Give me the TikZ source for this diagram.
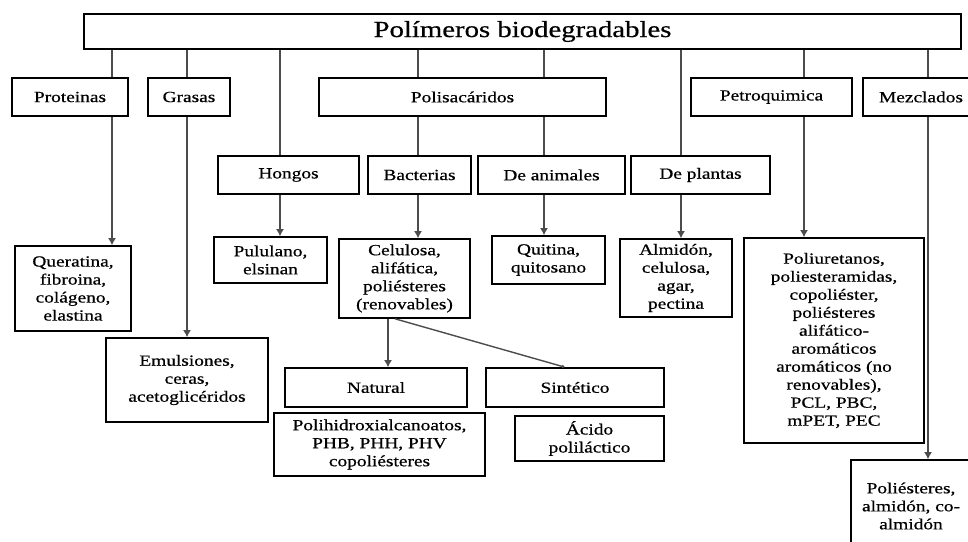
\documentclass[tikz,border=0pt]{standalone}
\usepackage{fontspec}
\setmainfont{Liberation Serif}[FakeStretch=1.25,FakeBold=0.6]
\usetikzlibrary{arrows.meta}
\tikzset{
  box/.style={draw, fill=white, line width=1.6pt, align=center, inner sep=0pt,
    font=\fontsize{15.5}{18}\selectfont},
  bx/.style 2 args={box, minimum width=#1pt, minimum height=#2pt},
  link/.style={line width=1.4pt, draw=black!70},
  arr/.style={link, -{Latex[length=7pt,width=8pt]}},
  thin arr/.style={link, -{Latex[length=3pt,width=4pt]}}
}
\begin{document}
\begin{tikzpicture}[x=1pt,y=-1pt]
    \clip (0,0) rectangle (968,541);
    \node[bx={877}{35}, font=\fontsize{23}{26}\selectfont] (pol) at (522.5,31.5) {Polímeros biodegradables};

    \node[bx={116}{38}] (prot) at (70,97) {Proteinas};
    \node[bx={82}{38}] (gras) at (189,97) {Grasas};
    \node[bx={287}{38}] (polis) at (462.5,97) {Polisacáridos};
    \node[bx={161}{38}] (petro) at (771.5,97) {Petroquimica};
    \node[bx={116}{38}] (mezc) at (921,97) {Mezclados};

    \node[bx={141}{38}] (hong) at (288.5,175) {Hongos};
    \node[bx={103}{38}] (bact) at (419.5,175) {Bacterias};
    \node[bx={147}{38}] (anim) at (551.5,175) {De animales};
    \node[bx={139}{38}] (plan) at (700.5,175) {De plantas};

    \node[bx={116}{85}] (quer) at (73,288.5) {Queratina,\\fibroina,\\colágeno,\\elastina};
    \node[bx={162}{84}] (emul) at (187,380) {Emulsiones,\\ceras,\\acetoglicéridos};
    \node[bx={113}{46}] (pulu) at (270.5,260) {Pululano,\\elsinan};
    \node[bx={131}{79}] (celu) at (404.5,278.5) {Celulosa,\\alifática,\\poliésteres\\(renovables)};
    \node[bx={113}{48}] (quit) at (548.5,260) {Quitina,\\quitosano};
    \node[bx={112}{78}] (almi) at (676,278) {Almidón,\\celulosa,\\agar,\\pectina};
    \node[bx={180}{205}] (poliu) at (834,340.5) {Poliuretanos,\\poliesteramidas,\\copoliéster,\\poliésteres\\alifático-\\aromáticos\\aromáticos (no\\renovables),\\PCL, PBC,\\mPET, PEC};

    \node[bx={182}{39}] (nat) at (376,387.5) {Natural};
    \node[bx={178}{39}] (sint) at (575,387.5) {Sintético};
    \node[bx={211}{63}] (phb) at (379.5,444.5) {Polihidroxialcanoatos,\\PHB, PHH, PHV\\copoliésteres};
    \node[bx={149}{45}] (acid) at (589.5,438.5) {Ácido\\poliláctico};
    \node[bx={120}{92}] (poliest) at (911,506) {Poliésteres,\\almidón, co-\\almidón};

    \coordinate (c1) at (112,0);
    \coordinate (c2) at (187,0);
    \coordinate (c3) at (280,0);
    \coordinate (c4) at (418,0);
    \coordinate (c5) at (544,0);
    \coordinate (c6) at (681,0);
    \coordinate (c7) at (804,0);
    \coordinate (c8) at (928,0);
    \coordinate (c9) at (388,0);
    \coordinate (c10) at (395,0);
    \coordinate (c11) at (565,0);

    \draw[link] (pol.south -| c1) -- (prot.north -| c1);
    \draw[arr] (prot.south -| c1) -- (quer.north -| c1);
    \draw[link] (pol.south -| c2) -- (gras.north -| c2);
    \draw[arr] (gras.south -| c2) -- (emul.north -| c2);
    \draw[link] (pol.south -| c3) -- (hong.north -| c3);
    \draw[arr] (hong.south -| c3) -- (pulu.north -| c3);
    \draw[link] (pol.south -| c4) -- (polis.north -| c4);
    \draw[link] (polis.south -| c4) -- (bact.north -| c4);
    \draw[arr] (bact.south -| c4) -- (celu.north -| c4);
    \draw[link] (pol.south -| c5) -- (polis.north -| c5);
    \draw[link] (polis.south -| c5) -- (anim.north -| c5);
    \draw[arr] (anim.south -| c5) -- (quit.north -| c5);
    \draw[link] (pol.south -| c6) -- (plan.north -| c6);
    \draw[arr] (plan.south -| c6) -- (almi.north -| c6);
    \draw[link] (pol.south -| c7) -- (petro.north -| c7);
    \draw[arr] (petro.south -| c7) -- (poliu.north -| c7);
    \draw[link] (pol.south -| c8) -- (mezc.north -| c8);
    \draw[arr] (mezc.south -| c8) -- (poliest.north -| c8);
    \draw[arr] (celu.south -| c9) -- (nat.north -| c9);
    \draw[thin arr] (celu.south -| c10) -- (sint.north -| c11);
\end{tikzpicture}
\end{document}
